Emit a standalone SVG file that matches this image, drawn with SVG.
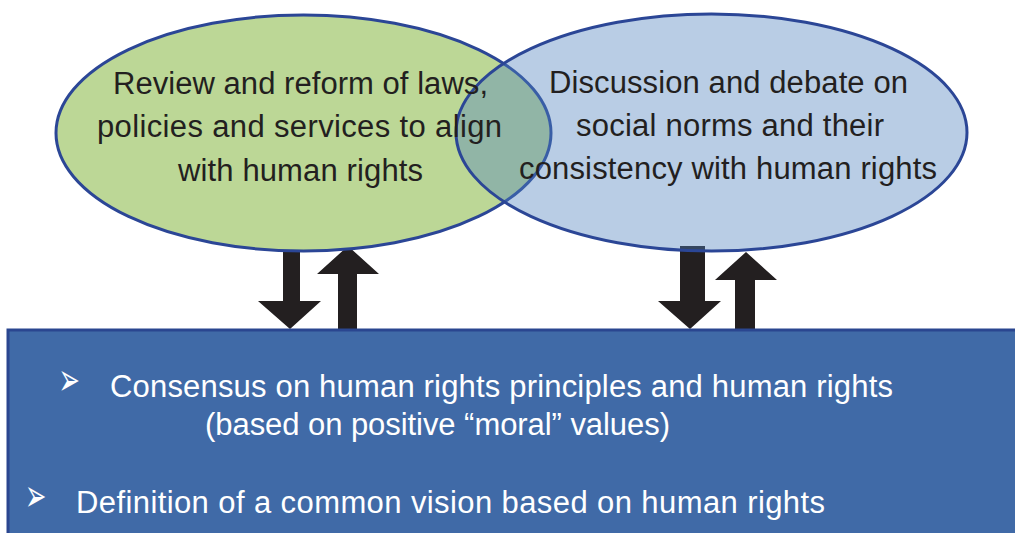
<svg xmlns="http://www.w3.org/2000/svg" width="1015" height="533" viewBox="0 0 1015 533">
<style>
.t{font-family:"Liberation Sans",Arial,sans-serif;font-size:31px;fill:#231f20;text-anchor:middle}
.w{font-family:"Liberation Sans",Arial,sans-serif;font-size:31px;fill:#ffffff}
.b{font-family:"DejaVu Sans",sans-serif;font-size:30px;fill:#ffffff}
.arr{fill:#231f20}
</style>
<rect width="1015" height="533" fill="#ffffff"/>
<g id="connectors">
<polygon class="arr" points="283,246 300,246 300,301 321,301 290,329 258,301 283,301"/>
<polygon class="arr" points="338,330 357,330 357,274 379,274 348,246 317,274 338,274"/>
<polygon class="arr" points="680,246 705,246 705,301 721,301 690,329 658,301 680,301"/>
<polygon class="arr" points="735,330 755,330 755,280 777,280 746,252 715,280 735,280"/>
</g>
<g id="node-consensus">
<rect x="8" y="330" width="1012" height="210" fill="#406aa7" stroke="#2a4690" stroke-width="3"/>
<text class="b" transform="translate(58.5,395) scale(0.85,1.5)">➢</text>
<text class="w" x="110" y="397" textLength="783" lengthAdjust="spacing">Consensus on human rights principles and human rights</text>
<text class="w" x="205" y="435" textLength="465" lengthAdjust="spacing">(based on positive “moral” values)</text>
<text class="b" transform="translate(25,511) scale(0.85,1.5)">➢</text>
<text class="w" x="76" y="513" textLength="749" lengthAdjust="spacing">Definition of a common vision based on human rights</text>
</g>
<g id="node-laws">
<ellipse cx="303.5" cy="133" rx="247.5" ry="118" fill="#bcd796" stroke="#2b4696" stroke-width="3"/>
</g>
<g id="node-norms">
<ellipse cx="711.5" cy="132.5" rx="255.5" ry="118.5" fill="#4f81bd" fill-opacity="0.4" stroke="#2b4696" stroke-width="3"/>
</g>
<g id="labels">
<text class="t" x="300.5" y="94" textLength="375" lengthAdjust="spacing">Review and reform of laws,</text>
<text class="t" x="299.5" y="137" textLength="405" lengthAdjust="spacing">policies and services to align</text>
<text class="t" x="300.5" y="181" textLength="245" lengthAdjust="spacing">with human rights</text>
<text class="t" x="728.5" y="93" textLength="359" lengthAdjust="spacing">Discussion and debate on</text>
<text class="t" x="730" y="136" textLength="308" lengthAdjust="spacing">social norms and their</text>
<text class="t" x="728" y="179" textLength="418" lengthAdjust="spacing">consistency with human rights</text>
</g>
</svg>
